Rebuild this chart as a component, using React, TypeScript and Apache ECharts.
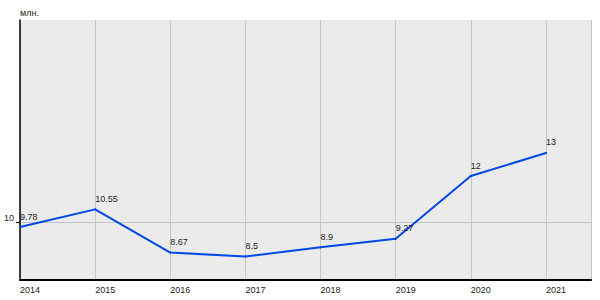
import React, { useEffect, useRef } from "react";
import * as echarts from "echarts";

const years = [2014, 2015, 2016, 2017, 2018, 2019, 2020, 2021];
const values = [9.78, 10.55, 8.67, 8.5, 8.9, 9.27, 12, 13];
const yTickValues = [10];
const unitLabel = "млн.";

export default function App() {
  const ref = useRef<HTMLDivElement>(null);
  useEffect(() => {
    if (!ref.current) return;
    const chart = echarts.init(ref.current, null, { renderer: "svg" });
    const font = "Liberation Sans, Arial, sans-serif";
    chart.setOption({
      animation: false,
      textStyle: { fontFamily: font },
      grid: {
        left: 20,
        right: 9,
        top: 20,
        bottom: 20,
        show: true,
        backgroundColor: "#ebebeb",
        borderWidth: 0,
        containLabel: false,
      },
      graphic: [
        {
          type: "text",
          left: 20,
          top: 8,
          style: { text: unitLabel, fontSize: 9, fill: "#222", fontFamily: font },
        },
      ],
      xAxis: {
        type: "value",
        min: 2014,
        max: 2021.6,
        interval: 1,
        axisLine: { show: true, lineStyle: { color: "#000", width: 2 } },
        axisTick: { show: false },
        axisLabel: {
          formatter: (v: number) => String(v),
          align: "left",
          fontSize: 9,
          color: "#222",
          margin: 5,
          fontFamily: font,
          showMaxLabel: false,
        },
        splitLine: { show: true, lineStyle: { color: "#c6c6c6", width: 1 } },
      },
      yAxis: {
        type: "value",
        min: 7.48,
        max: 18.78,
        axisLine: { show: true, lineStyle: { color: "#000", width: 1.5 } },
        axisTick: { show: true, length: 4, customValues: yTickValues, lineStyle: { color: "#000" } },
        axisLabel: {
          customValues: yTickValues,
          fontSize: 9,
          color: "#222",
          margin: 6,
          verticalAlign: "bottom",
          fontFamily: font,
        },
        splitLine: { show: true, lineStyle: { color: "#c6c6c6", width: 1 } },
      },
      series: [
        {
          type: "line",
          data: years.map((y, i) => [y, values[i]]),
          symbol: "circle",
          symbolSize: 2,
          showSymbol: true,
          itemStyle: { color: "#0048e8" },
          lineStyle: { color: "#0048e8", width: 2 },
          label: {
            show: true,
            position: "top",
            align: "left",
            distance: 5,
            fontSize: 9,
            color: "#222",
            fontFamily: font,
            formatter: (p: any) => String(p.value[1]),
          },
        },
      ],
    });
    return () => chart.dispose();
  }, []);
  return <div ref={ref} style={{ width: 600, height: 300, position: "absolute", left: 0, top: 0 }} />;
}
